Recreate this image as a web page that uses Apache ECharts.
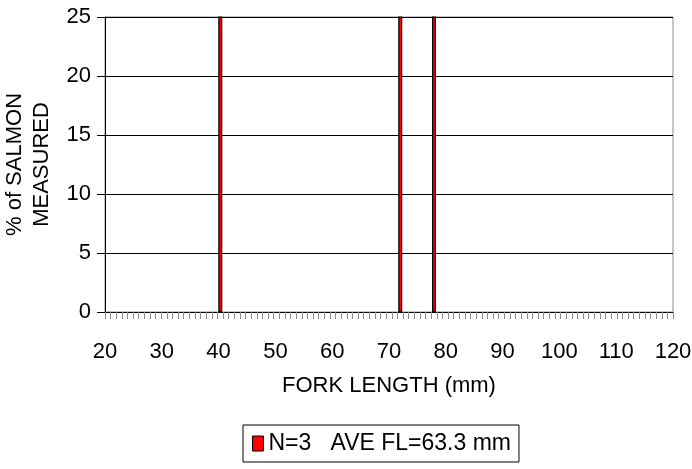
<!DOCTYPE html>
<html>
<head>
<meta charset="utf-8">
<script src="https://cdn.jsdelivr.net/npm/echarts@6/dist/echarts.min.js"></script>
<style>
html,body{margin:0;padding:0;background:#fff;}
#chart{width:692px;height:469px;}
</style>
</head>
<body>
<div id="chart"></div>
<script>
// Fork length categories (mm), one bin per mm
const categories = [];
for (let v = 20; v <= 120; v++) categories.push(String(v));
// Measured fish: fork length bins with % of salmon measured
const measuredLengths = [40, 72, 78];
const measuredPercents = [33.3, 33.3, 33.3];
// Tick labels
const xTickMin = 20, xTickMax = 120, xTickStep = 10;
const yTickMin = 0, yTickMax = 25, yTickStep = 5;

const n = measuredLengths.length;
const avg = measuredLengths.reduce((a, b) => a + b, 0) / n;
const seriesName = 'N=' + n + '   AVE FL=' + avg.toFixed(1) + ' mm';

const barData = categories.map(c => {
  const i = measuredLengths.indexOf(Number(c));
  return i >= 0 ? measuredPercents[i] : null;
});

const FONT = '"Liberation Sans", Arial, sans-serif';
const chart = echarts.init(document.getElementById('chart'), null, {renderer: 'canvas'});
chart.setOption({
  animation: false,
  backgroundColor: '#fff',
  textStyle: {fontFamily: FONT},
  grid: {left: 105, right: 19, top: 17, bottom: 157, show: true, borderColor: '#8c8c8c', borderWidth: 1, containLabel: false, outerBoundsMode: 'none'},
  legend: {
    left: 243, top: 425,
    padding: [7, 8, 7, 9],
    borderColor: '#000', borderWidth: 1,
    itemWidth: 11, itemHeight: 15, itemGap: 4,
    textStyle: {fontSize: 23, color: '#000', fontFamily: FONT, padding: [0, 0, 0, 0]},
    data: [{name: seriesName, icon: 'rect', itemStyle: {color: '#ff0000', borderColor: '#000', borderWidth: 1}}]
  },
  xAxis: [
    {
      type: 'category', data: categories, boundaryGap: true,
      axisLine: {show: true, lineStyle: {color: '#000', width: 1}},
      axisTick: {show: true, interval: 0, length: 7, lineStyle: {color: '#8c8c8c', width: 1}},
      axisLabel: {show: false},
      splitLine: {show: false}
    },
    {
      type: 'value', position: 'bottom', min: xTickMin, max: xTickMax, interval: xTickStep,
      axisLine: {show: false}, axisTick: {show: false}, splitLine: {show: false},
      axisLabel: {show: true, margin: 29, fontSize: 22, color: '#000', fontFamily: FONT},
      name: 'FORK LENGTH (mm)', nameLocation: 'middle', nameGap: 63,
      nameTextStyle: {fontSize: 22, color: '#000', fontFamily: FONT}
    }
  ],
  yAxis: {
    type: 'value', min: yTickMin, max: yTickMax, interval: yTickStep,
    axisLine: {show: true, lineStyle: {color: '#000', width: 1}},
    axisTick: {show: true, length: 8, inside: false, lineStyle: {color: '#000', width: 1}},
    axisLabel: {margin: 14, fontSize: 22, color: '#000', fontFamily: FONT},
    splitLine: {show: true, lineStyle: {color: '#000', width: 1}},
    name: '% of SALMON\nMEASURED', nameLocation: 'middle', nameGap: 45, nameRotate: 90,
    nameTextStyle: {fontSize: 22, lineHeight: 27, color: '#000', fontFamily: FONT, align: 'center'}
  },
  series: [{
    name: seriesName,
    type: 'bar',
    xAxisIndex: 0,
    data: barData,
    barWidth: 4,
    itemStyle: {color: '#ff0000', borderColor: '#000', borderWidth: 1.2},
    clip: true
  }]
});
</script>
</body>
</html>
